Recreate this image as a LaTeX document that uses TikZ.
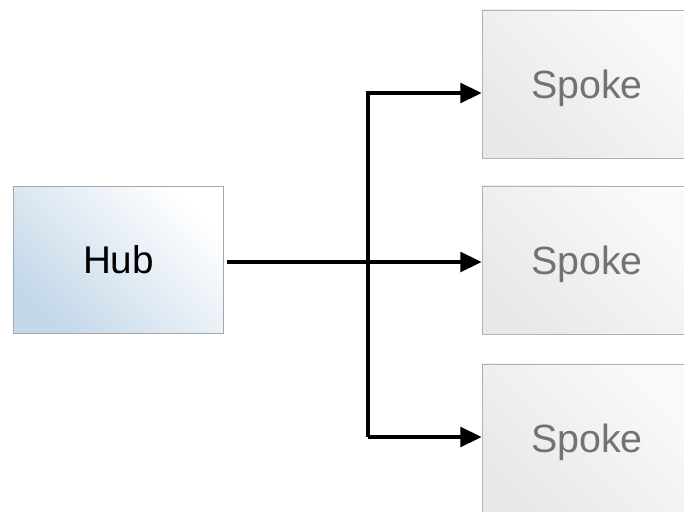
\documentclass[tikz,border=0pt]{standalone}
\usepackage{fontspec}
\setmainfont{Liberation Sans}
\usetikzlibrary{arrows.meta}

\definecolor{hubblue}{RGB}{196,216,233}

\begin{document}
\begin{tikzpicture}[x=0.025cm, y=-0.025cm,
    hub/.style = {draw=gray!70, line width=0.6pt, minimum width=5.25cm, minimum height=3.68cm,
                  shading=axis, left color=hubblue, right color=white, shading angle=135,
                  font=\fontsize{27.5}{32}\selectfont},
    spoke/.style = {draw=gray!60, line width=0.6pt, minimum width=5.25cm, minimum height=3.7cm,
                  shading=axis, left color=gray!18, right color=gray!4, shading angle=135,
                  text=gray!90!black, text depth=0pt, font=\fontsize{28}{32}\selectfont},
    link/.style = {line width=2.5pt, -{Triangle[length=15pt, width=14pt]}}]
    \useasboundingbox (0,0) rectangle (684,512);
    \node[hub](hub) at (118.5,260) {Hub};
    \node[spoke](s1) at (587,84) {Spoke};
    \node[spoke](s2) at (587,260) {Spoke};
    \node[spoke](s3) at (587,438) {Spoke};
    \coordinate (j) at (368,262);
    \coordinate (top) at (368,93);
    \coordinate (bot) at (368,437);
    \draw[link] (hub.east) ++(3,2) -- (s2.west |- j);
    \draw[link] (bot) -- (top) -- (s1.west |- top);
    \draw[link] (bot) -- (s3.west |- bot);
\end{tikzpicture}
\end{document}
